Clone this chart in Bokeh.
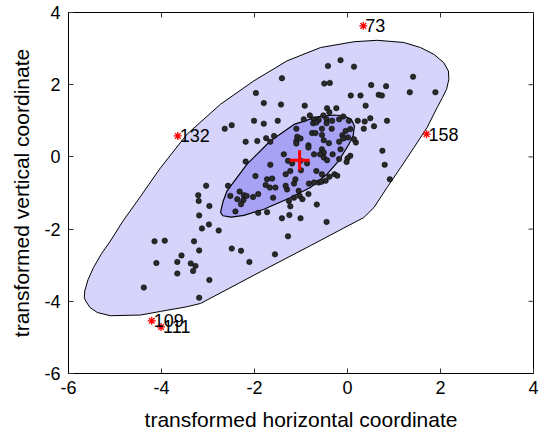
import math
from bokeh.plotting import figure
from bokeh.models import FixedTicker, Range1d
from bokeh.core.properties import value
from bokeh.embed import file_html
from bokeh.resources import INLINE

# ---- data ----
pts_x = [
    -0.42, -0.15, 0.14, -1.41, -0.50, -0.38, -1.97, 1.41, 0.51, 0.83,
    1.34, 1.89, 0.07, 0.28, 0.67, 0.74, -1.80, -1.43, -0.92, 0.39,
    -0.44, -0.24, -0.39, -2.01, -1.80, -1.50, -2.49, -2.64, 0.22, 0.37,
    0.49, 0.57, 0.85, 0.35, -2.19, -1.94, -1.75, -1.66, -1.58, 0.18,
    0.75, 0.80, 0.91, 0.06, 0.00, -0.02, -2.19, -3.04, -3.21, -3.20,
    -2.97, -3.19, -2.98, -3.13, -2.77, -0.28, -0.22, -0.66, -1.23, -1.41,
    -1.25, -1.01, -0.45, -1.92, -1.73, -1.28, -4.15, -3.93, -3.30, -3.19,
    -2.49, -2.29, -1.56, -4.11, -3.66, -3.57, -3.37, -3.27, -3.32, -3.66,
    -2.11, -2.97, -4.38, -3.19,
    -1.10, -0.94, -0.81, -0.72, -0.62, -0.52, -0.45, -0.33, -0.18, -0.09,
    0.03, -0.74, -0.67, -0.45, -0.34, -0.55, -1.08, -0.76, -0.69, -0.55,
    -0.04, 0.06, -0.11, -0.09, 0.14, -1.10, -1.01, -0.51, -0.40, -0.18,
    -0.15, -0.84, -0.84, -0.55, -0.51, -0.72, -1.37, -1.10, -1.19, -1.00,
    -0.87, -1.23, -1.33, -1.12, -1.15, -1.30, -1.05, -0.83, -1.66, -1.98,
    -1.73, -1.62, -1.76, -1.67, -1.55, -1.33, -2.57, -2.32, -2.52, -2.37,
    -2.23, -2.17, -2.24, -2.29, -2.03, -1.92, -1.60, -1.26, -1.15, -1.03,
    -0.97, -0.84, -2.41, -0.59, -0.51, -0.44, -0.32, -0.62, -0.56, -0.47,
    -0.72, -0.39, -0.18, 0.01, -1.01, -1.28, -0.67, -0.55,
]
pts_y = [
    2.52, 2.68, 2.50, 2.18, 2.03, 2.05, 1.77, 2.22, 1.99, 1.96,
    1.79, 1.79, 1.70, 1.70, 1.72, 1.70, 1.49, 1.45, 1.42, 1.42,
    1.35, 1.35, 1.24, 1.00, 0.92, 1.00, 0.88, 0.78, 1.00, 0.98,
    1.07, 0.85, 1.00, 0.78, 0.42, 0.44, 0.52, 0.42, 0.58, 0.40,
    0.17, -0.22, -0.62, 0.03, -0.04, -0.14, -0.13, -0.80, -1.06, -1.22,
    -1.36, -1.62, -1.87, -1.98, -2.04, -0.48, -0.52, -1.32, -1.37, -1.70,
    -1.61, -1.70, -1.80, -1.55, -1.53, -2.20, -2.34, -2.32, -2.34, -2.59,
    -2.54, -2.60, -2.70, -2.94, -2.91, -2.73, -2.95, -3.02, -3.16, -3.23,
    -2.91, -3.41, -3.62, -3.90,
    0.78, 1.04, 1.15, 1.04, 1.02, 1.15, 1.04, 1.00, 1.04, 1.12,
    1.00, 0.93, 0.95, 0.93, 0.78, 0.78, 0.56, 0.66, 0.66, 0.61,
    0.72, 0.77, 0.60, 0.51, 0.49, 0.44, 0.51, 0.46, 0.38, 0.42,
    0.21, 0.32, 0.26, 0.21, 0.12, 0.07, 0.07, 0.37, -0.18, -0.37,
    -0.18, -0.39, -0.48, -0.62, -0.74, -0.90, -0.94, -0.74, -0.22, -0.53,
    -0.62, -0.60, -0.78, -0.85, -0.85, -0.80, -0.80, -0.96, -1.08, -1.17,
    -1.06, -1.08, -1.20, -1.31, -1.11, -1.03, -1.13, -1.22, -1.13, -1.08,
    -1.17, -1.03, -1.51, 0.07, -0.02, -0.09, 0.07, -0.71, -0.69, -0.66,
    -0.71, -0.55, -0.06, 0.54, -0.11, -0.11, -0.39, -0.48,
]

fence_x = [-5.66, -5.65, -5.58, -5.46, -5.30, -5.10, -4.83, -4.52, -4.02, -3.45,
           -2.73, -2.01, -1.30, -0.58, 0.14, 0.64, 1.21, 1.57, 1.86, 2.07,
           2.17, 2.18, 2.13, 2.04, 1.93, 1.71, 1.43, 1.14, 0.85, 0.57,
           0.35, -0.08, -0.80, -1.87, -3.16, -3.45, -4.02, -4.45, -5.10, -5.38,
           -5.54, -5.63]
fence_y = [-3.90, -3.71, -3.40, -3.06, -2.70, -2.33, -1.78, -1.22, -0.30, 0.63,
           1.46, 2.11, 2.66, 3.03, 3.19, 3.23, 3.17, 3.03, 2.84, 2.61,
           2.38, 2.15, 1.87, 1.64, 1.37, 0.81, 0.26, -0.30, -0.85, -1.40,
           -1.68, -1.97, -2.46, -3.18, -4.06, -4.15, -4.28, -4.38, -4.40, -4.31,
           -4.17, -3.99]

bag_x = [-2.73, -2.68, -2.59, -2.16, -1.66, -1.15, -0.65, -0.30, -0.08, 0.08,
         0.15, 0.12, 0.03, -0.19, -0.44, -0.80, -1.23, -1.80, -2.23, -2.50,
         -2.68]
bag_y = [-1.54, -1.25, -0.94, -0.20, 0.44, 0.90, 1.11, 1.16, 1.14, 1.04,
         0.85, 0.58, 0.35, -0.11, -0.48, -0.85, -1.13, -1.45, -1.62, -1.67,
         -1.63]

median_x = [-1.03]
median_y = [-0.09]

outlier_x = [0.34, -3.65, 1.70, -4.21, -4.01]
outlier_y = [3.63, 0.58, 0.63, -4.54, -4.71]
outlier_labels = ["73", "132", "158", "109", "111"]

tick_values = [-6, -4, -2, 0, 2, 4]
tick_labels = ["-6", "-4", "-2", "0", "2", "4"]
# --------------------------------------

FONT = "Liberation Sans"
XMIN, XMAX, YMIN, YMAX = -6, 4, -6, 4

p = figure(width=539, height=433, output_backend="svg", toolbar_location=None,
           x_range=Range1d(XMIN, XMAX), y_range=Range1d(YMIN, YMAX),
           min_border_left=68, min_border_right=6, min_border_top=12,
           min_border_bottom=60, background_fill_color="white",
           border_fill_color="white")
p.grid.visible = False
p.outline_line_color = "black"
p.outline_line_width = 1

overrides = {v: s for v, s in zip(tick_values, tick_labels)}
for ax in (p.xaxis[0], p.yaxis[0]):
    ax.ticker = FixedTicker(ticks=tick_values)
    ax.major_label_overrides = overrides
    ax.major_tick_in = 5
    ax.major_tick_out = 0
    ax.minor_tick_line_color = None
    ax.axis_line_color = "black"
    ax.major_tick_line_color = "#333333"
    ax.major_label_text_font = FONT
    ax.major_label_text_font_size = "18px"
    ax.major_label_text_color = "black"
    ax.axis_label_text_font = FONT
    ax.axis_label_text_font_size = "21px"
    ax.axis_label_text_font_style = "normal"
    ax.axis_label_text_color = "black"

p.xaxis[0].axis_label = "transformed horizontal coordinate"
p.yaxis[0].axis_label = "transformed vertical coordinate"
p.xaxis[0].major_label_standoff = 7
p.xaxis[0].axis_label_standoff = 11
p.yaxis[0].major_label_standoff = 8
p.yaxis[0].axis_label_standoff = 8

p.patch(fence_x, fence_y, fill_color="#d6d4fa", fill_alpha=1.0,
        line_color="black", line_width=1)
p.patch(bag_x, bag_y, fill_color="#a8a2f5", fill_alpha=1.0,
        line_color="black", line_width=1.2)

p.scatter(pts_x, pts_y, marker="circle", size=5.5, fill_color="#2a2a2a",
          line_color="black", line_width=0.5)

p.scatter(median_x, median_y, marker="cross", size=20, line_color="red",
          line_width=3)

p.scatter(outlier_x, outlier_y, marker="asterisk", size=8, line_color="red",
          line_width=1.3)
p.text(outlier_x, outlier_y, text=outlier_labels, x_offset=2,
       text_baseline="middle", text_align="left",
       text_font=value(FONT), text_font_size="18px", text_color="black")

# inward ticks on the top and right edges of the box (half of each dash is clipped by the frame)
p.scatter(tick_values, [YMAX] * len(tick_values), marker="dash", size=10,
          angle=math.pi / 2, line_color="#333333", line_width=1)
p.scatter([XMAX] * len(tick_values), tick_values, marker="dash", size=10,
          line_color="#333333", line_width=1)

open("out.html", "w").write(file_html(p, INLINE))
